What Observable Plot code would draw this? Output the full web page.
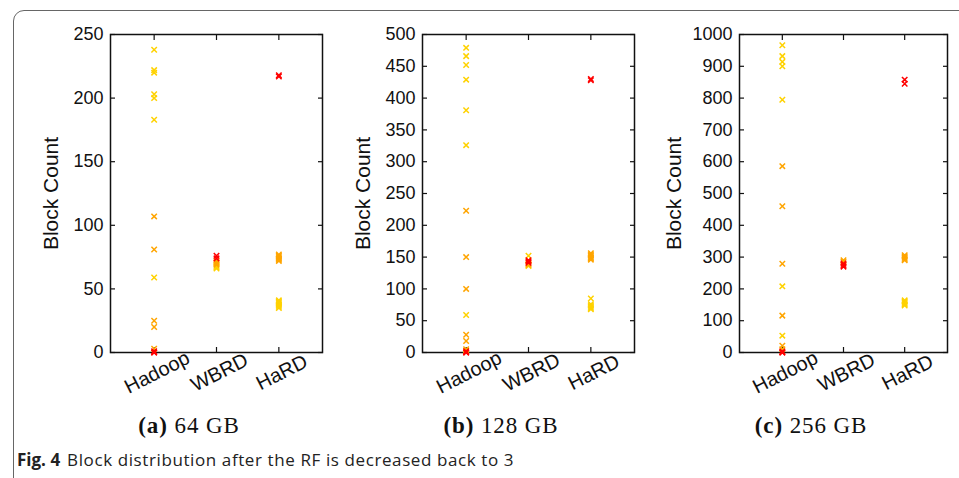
<!DOCTYPE html>
<html><head><meta charset="utf-8">
<script src="https://cdn.jsdelivr.net/npm/d3@7"></script>
<script src="https://cdn.jsdelivr.net/npm/@observablehq/plot@0.6"></script>
<style>
body{margin:0;background:#fff;}
#wrap{position:relative;width:959px;height:478px;overflow:hidden;background:#fff;}
#box{position:absolute;left:13px;top:10px;width:1000px;height:1000px;border:1px solid #666;border-radius:11px 0 0 0;}
.panel{position:absolute;top:0;}
.sub{position:absolute;top:413px;font-family:"Liberation Serif",serif;font-size:23px;transform:translateX(-50%);white-space:nowrap;color:#111;letter-spacing:0.9px;}
#cap{position:absolute;left:17px;top:448px;font-family:"Open Sans",sans-serif;font-size:17px;letter-spacing:0.6px;color:#222;white-space:nowrap;}
#cap b{font-weight:700;margin-right:7px;letter-spacing:0;}
</style></head>
<body><div id="wrap"><div id="box"></div></div>
<script>
// categories on the x axis
const categories = ["Hadoop", "WBRD", "HaRD"];
// sub-figure labels
const subLetters = ["(a)", "(b)", "(c)"];
const subSizes = ["64 GB", "128 GB", "256 GB"];
// y axis extents and tick steps
const yMax = [250, 500, 1000];
const yStep = [50, 50, 100];
// three point groups (colours)
const groups = ["group 1", "group 2", "group 3"];
const groupColors = ["#FFD200", "#FFA500", "#FF0000"];

// values per category [Hadoop, WBRD, HaRD]
const g1_64 = [[238, 222, 220, 203, 200, 183, 59], [66, 67, 68], [35, 36, 37, 38, 39, 40, 41]];
const g2_64 = [[107, 81, 25, 20, 3], [69, 70, 71, 72], [72, 73, 74, 75, 76, 77]];
const g3_64 = [[0, 0, 1], [74, 76], [217, 218]];

const g1_128 = [[479, 466, 452, 429, 381, 326, 59, 3], [136, 138, 152], [68, 70, 72, 74, 76, 85]];
const g2_128 = [[223, 150, 100, 28, 18, 5], [138, 140], [146, 148, 150, 152, 154, 156]];
const g3_128 = [[0, 0, 2], [141, 143, 145], [428, 430]];

const g1_256 = [[966, 932, 914, 900, 795, 208, 53], [], [148, 152, 156, 160, 164]];
const g2_256 = [[586, 460, 279, 116, 21, 10], [285, 290], [290, 294, 298, 302, 306]];
const g3_256 = [[0, 0, 3], [270, 275, 280], [845, 858]];

const panelSeries = [[g1_64, g2_64, g3_64], [g1_128, g2_128, g3_128], [g1_256, g2_256, g3_256]];

// layout of each panel (svg left position and frame width)
const svgLeft = [0, 312, 629];
const frameW = [212, 212, 208];
const labelOff = [67, 67, 73];
const subCenter = [189, 501, 811];

const wrap = document.getElementById("wrap");

panelSeries.forEach((series, p) => {
  const data = [];
  series.forEach((perCat, s) => {
    perCat.forEach((vals, c) => {
      vals.forEach(v => data.push({cat: c + 1, value: v, group: groups[s]}));
    });
  });
  const yt = d3.range(0, yMax[p] + 1, yStep[p]);
  const W = 330;
  const chart = Plot.plot({
    width: W,
    height: 410,
    marginLeft: 110,
    marginRight: W - 110 - frameW[p],
    marginTop: 34,
    marginBottom: 58,
    style: {background: "transparent", fontFamily: "'Liberation Sans', Arial, sans-serif", color: "#111", overflow: "visible"},
    x: {domain: [0.3, 3.7]},
    y: {domain: [0, yMax[p]]},
    color: {domain: groups, range: groupColors},
    marks: [
      Plot.axisY({ticks: yt, tickSize: 0, tickPadding: 7, tickFormat: d => String(d), fontSize: 18, label: null}),
      Plot.axisY({ticks: yt, tickSize: -5, text: null, label: null, strokeWidth: 1.2}),
      Plot.axisY({anchor: "right", ticks: yt, tickSize: -5, text: null, label: null, strokeWidth: 1.2}),
      Plot.axisY({ticks: [], tickSize: 0, label: "Block Count", labelAnchor: "center", labelArrow: "none", labelOffset: labelOff[p], fontSize: 21}),
      Plot.axisX({ticks: [1, 2, 3], tickSize: 0, tickFormat: i => categories[i - 1], tickRotate: -27, textAnchor: "middle", lineAnchor: "middle", tickPadding: 20, dx: 3, fontSize: 20, label: null}),
      Plot.axisX({ticks: [1, 2, 3], tickSize: -5, text: null, label: null, strokeWidth: 1.2}),
      Plot.axisX({anchor: "top", ticks: [1, 2, 3], tickSize: -5, text: null, label: null, strokeWidth: 1.2}),
      Plot.frame({stroke: "#111", strokeWidth: 1.5}),
      Plot.dot(data, {x: "cat", y: "value", stroke: "group", symbol: "times", r: 2.6, strokeWidth: 1.5})
    ]
  });
  const holder = document.createElement("div");
  holder.className = "panel";
  holder.style.left = svgLeft[p] + "px";
  holder.appendChild(chart);
  wrap.appendChild(holder);

  const sub = document.createElement("div");
  sub.className = "sub";
  sub.style.left = subCenter[p] + "px";
  const b = document.createElement("b");
  b.textContent = subLetters[p];
  sub.appendChild(b);
  sub.appendChild(document.createTextNode(" " + subSizes[p]));
  wrap.appendChild(sub);
});

const cap = document.createElement("div");
cap.id = "cap";
const fb = document.createElement("b");
fb.textContent = "Fig. 4";
cap.appendChild(fb);
cap.appendChild(document.createTextNode("Block distribution after the RF is decreased back to 3"));
wrap.appendChild(cap);
</script>
</body></html>
